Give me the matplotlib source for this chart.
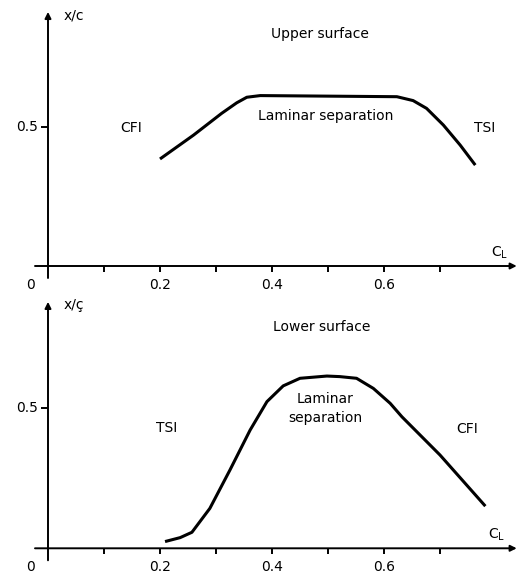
import matplotlib
matplotlib.use("Agg")
import matplotlib.pyplot as plt

# ---- data ----
upper_cl = [0.200, 0.260, 0.310, 0.337, 0.355, 0.379, 0.500, 0.623, 0.652, 0.676, 0.706, 0.736, 0.763]
upper_xc = [0.385, 0.471, 0.549, 0.587, 0.607, 0.613, 0.611, 0.609, 0.595, 0.567, 0.507, 0.435, 0.363]

lower_cl = [0.209, 0.236, 0.257, 0.289, 0.325, 0.361, 0.391, 0.420, 0.450, 0.498, 0.521, 0.551, 0.581, 0.611, 0.632, 0.700, 0.781]
lower_xc = [0.024, 0.038, 0.057, 0.142, 0.279, 0.421, 0.522, 0.578, 0.605, 0.613, 0.611, 0.605, 0.569, 0.516, 0.468, 0.332, 0.150]

x_ticks = [0.1, 0.2, 0.3, 0.4, 0.5, 0.6, 0.7]
x_ticklabels = {0.2: "0.2", 0.4: "0.4", 0.6: "0.6"}
y_tick = 0.5
y_ticklabel = "0.5"

FIG_W, FIG_H = 518, 575
fig = plt.figure(figsize=(FIG_W / 100, FIG_H / 100), dpi=100)
plt.rcParams['font.family'] = ['DejaVu Sans']
FS = 10

XSCALE = 560.0  # px per unit CL
XLIM = (-0.05, 0.84)


def make_axes(y0_px_from_top, yscale, ylim):
    left_px = 48 - (0 - XLIM[0]) * XSCALE
    width_px = (XLIM[1] - XLIM[0]) * XSCALE
    bottom_px = (FIG_H - y0_px_from_top) - (0 - ylim[0]) * yscale
    height_px = (ylim[1] - ylim[0]) * yscale
    ax = fig.add_axes([left_px / FIG_W, bottom_px / FIG_H, width_px / FIG_W, height_px / FIG_H])
    ax.set_xlim(*XLIM)
    ax.set_ylim(*ylim)
    ax.axis('off')
    return ax


def draw_frame(ax, ymax, ylabel, yscale):
    ap = dict(arrowstyle='-|>', lw=1.4, color='black', mutation_scale=9, shrinkA=0, shrinkB=0)
    ax.annotate('', xy=(0, ymax), xytext=(0, -12 / yscale), arrowprops=ap, annotation_clip=False)
    ax.annotate('', xy=(0.837, 0), xytext=(-13 / XSCALE, 0), arrowprops=ap, annotation_clip=False)
    tick_len = 6 / yscale
    for t in x_ticks:
        ax.plot([t, t], [0, -tick_len], color='black', lw=1.4, solid_capstyle='butt')
        if t in x_ticklabels:
            ax.text(t, -19 / yscale, x_ticklabels[t], ha='center', va='center', fontsize=FS)
    ax.text(-18 / XSCALE, -19 / yscale, "0", ha='center', va='center', fontsize=FS)
    ax.plot([-7 / XSCALE, 0], [y_tick, y_tick], color='black', lw=1.4, solid_capstyle='butt')
    ax.text(-10 / XSCALE, y_tick, y_ticklabel, ha='right', va='center', fontsize=FS)
    ax.text(0.028, ymax - 0.012, ylabel, ha='left', va='center', fontsize=FS)


# ---- upper surface ----
ys1 = 278.0
ax1 = make_axes(266, ys1, (-0.09, 0.95))
draw_frame(ax1, 0.914, "x/c", ys1)
ax1.plot(upper_cl, upper_xc, color='black', lw=2.2, solid_capstyle='butt', solid_joinstyle='round')
ax1.text(0.486, 0.835, "Upper surface", ha='center', va='center', fontsize=FS)
ax1.text(0.495, 0.541, "Laminar separation", ha='center', va='center', fontsize=FS)
ax1.text(0.149, 0.497, "CFI", ha='center', va='center', fontsize=FS)
ax1.text(0.780, 0.495, "TSI", ha='center', va='center', fontsize=FS)
ax1.text(0.807, 0.047, "C$_\\mathregular{L}$", ha='center', va='center', fontsize=FS)

# ---- lower surface ----
ys2 = 281.0
ax2 = make_axes(548.3, ys2, (-0.09, 0.9))
draw_frame(ax2, 0.877, "x/ç", ys2)
ax2.plot(lower_cl, lower_xc, color='black', lw=2.2, solid_capstyle='butt', solid_joinstyle='round')
ax2.text(0.489, 0.789, "Lower surface", ha='center', va='center', fontsize=FS)
ax2.text(0.495, 0.498, "Laminar\nseparation", ha='center', va='center', fontsize=FS, linespacing=1.5)
ax2.text(0.212, 0.427, "TSI", ha='center', va='center', fontsize=FS)
ax2.text(0.748, 0.423, "CFI", ha='center', va='center', fontsize=FS)
ax2.text(0.801, 0.047, "C$_\\mathregular{L}$", ha='center', va='center', fontsize=FS)

fig.savefig("out.png", dpi=100, facecolor='white')
